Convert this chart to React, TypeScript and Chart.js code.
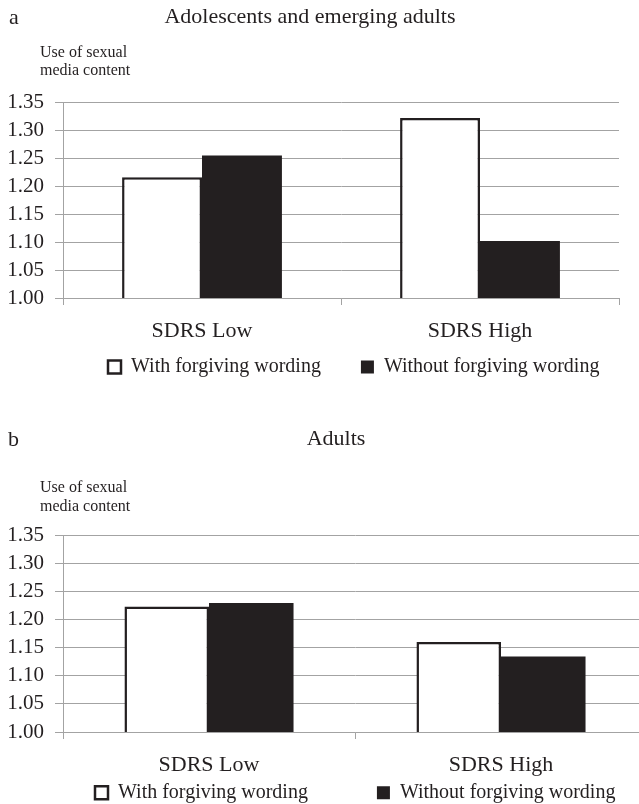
import React, { useEffect, useRef } from "react";
import { Chart, registerables } from "chart.js";

Chart.register(...registerables);

const categories = ["SDRS Low", "SDRS High"];
const seriesLabels = ["With forgiving wording", "Without forgiving wording"];
const adolescentsWith = [1.216, 1.322];
const adolescentsWithout = [1.255, 1.102];
const adultsWith = [1.223, 1.16];
const adultsWithout = [1.229, 1.134];
const yMin = 1.0;
const yMax = 1.35;
const yTickValues = [1.0, 1.05, 1.1, 1.15, 1.2, 1.25, 1.3, 1.35];
const titles = ["Adolescents and emerging adults", "Adults"];
const panelLetters = ["a", "b"];
const axisCaption = ["Use of sexual", "media content"];

const FONT = "'Liberation Serif', 'Times New Roman', serif";
const INK = "#231f20";
const GRID = "#a3a3a3";
const X_AXIS_H = 52;

const annotPlugin = {
  id: "annot",
  afterDraw(chart: any, _args: any, opts: any) {
    const ctx = chart.ctx;
    ctx.save();
    ctx.fillStyle = INK;
    ctx.textAlign = "left";
    ctx.textBaseline = "alphabetic";
    ctx.font = `22px ${FONT}`;
    ctx.fillText(opts.letter, opts.letterX, opts.letterY);
    ctx.font = `16px ${FONT}`;
    opts.caption.forEach((t: string, i: number) =>
      ctx.fillText(t, opts.capX, opts.capY + i * opts.capGap)
    );
    ctx.restore();
  },
};

const legendPlace = {
  id: "legendPlace",
  afterLayout(chart: any, _args: any, opts: any) {
    const l = chart.legend;
    if (!l) return;
    const pad = l.options.labels.padding;
    const w = l.right - l.left;
    const h = l.bottom - l.top;
    l.left = opts.x - pad;
    l.right = l.left + w + 100;
    l.top = opts.textY - 10 - pad;
    l.bottom = l.top + h;
  },
};

function makeConfig(p: any) {
  return {
    type: "bar",
    data: {
      labels: categories,
      datasets: [
        {
          label: seriesLabels[0],
          data: p.withData,
          backgroundColor: "#ffffff",
          borderColor: INK,
          borderWidth: 2.5,
          borderSkipped: false,
          barPercentage: 1,
          categoryPercentage: p.catPct,
        },
        {
          label: seriesLabels[1],
          data: p.withoutData,
          backgroundColor: INK,
          borderColor: INK,
          borderWidth: 0,
          borderSkipped: false,
          barPercentage: 1,
          categoryPercentage: p.catPct,
        },
      ],
    },
    options: {
      animation: false,
      responsive: false,
      maintainAspectRatio: false,
      layout: { padding: 0 },
      font: { family: FONT },
      scales: {
        x: {
          offset: true,
          grid: {
            display: true,
            drawOnChartArea: false,
            drawTicks: true,
            tickLength: 7,
            color: GRID,
            lineWidth: 1,
          },
          border: { display: true, color: GRID, width: 1 },
          ticks: {
            color: INK,
            padding: 13.5,
            font: { family: FONT, size: 22 },
            maxRotation: 0,
          },
          afterFit(scale: any) {
            scale.height = X_AXIS_H;
          },
        },
        y: {
          min: yMin,
          max: yMax,
          grid: {
            color: GRID,
            lineWidth: 1,
            drawTicks: true,
            tickLength: 8,
          },
          border: { display: true, color: GRID, width: 1 },
          ticks: {
            autoSkip: false,
            color: INK,
            padding: 11,
            font: { family: FONT, size: 21 },
            callback: (v: number) => Number(v).toFixed(2),
          },
          afterBuildTicks(scale: any) {
            scale.ticks = yTickValues.map((v) => ({ value: v }));
          },
          afterFit(scale: any) {
            scale.width = 63;
          },
        },
        yRight: {
          position: "right",
          display: true,
          min: yMin,
          max: yMax,
          grid: { display: false, drawTicks: false },
          border: { display: false },
          ticks: { display: false },
          afterFit(scale: any) {
            scale.width = p.padRight;
          },
        },
      },
      plugins: {
        title: {
          display: true,
          text: p.title,
          color: INK,
          font: { family: FONT, size: 22, weight: "normal" },
          padding: { top: p.titleTop, bottom: p.titleBottom },
        },
        legend: {
          display: true,
          position: "bottom",
          align: "start",
          labels: {
            color: INK,
            boxWidth: 13,
            boxHeight: 13,
            padding: p.legendPad,
            font: { family: FONT, size: 20 },
          },
        },
        tooltip: { enabled: false },
        annot: p.annot,
        legendPlace: p.legendPlace,
      },
    },
    plugins: [annotPlugin, legendPlace],
  } as any;
}

function Panel(props: any) {
  const ref = useRef<HTMLCanvasElement>(null);
  useEffect(() => {
    if (!ref.current) return;
    const chart = new Chart(ref.current, makeConfig(props.cfg));
    return () => chart.destroy();
  }, []);
  return (
    <div
      style={{
        position: "absolute",
        left: 0,
        top: props.top,
        width: props.width,
        height: props.height,
      }}
    >
      <canvas
        ref={ref}
        width={props.width}
        height={props.height}
        style={{ width: props.width, height: props.height, display: "block" }}
      />
    </div>
  );
}

export default function App() {
  const cfgA = {
    withData: adolescentsWith,
    withoutData: adolescentsWithout,
    catPct: 0.575,
    padRight: 1,
    title: titles[0],
    titleTop: 4,
    titleBottom: 72,
    legendPad: 40,
    annot: {
      letter: panelLetters[0],
      letterX: 9,
      letterY: 23.5,
      caption: axisCaption,
      capX: 40,
      capY: 56.7,
      capGap: 18.3,
    },
    legendPlace: { x: 108, textY: 367 },
  };
  const cfgB = {
    withData: adultsWith,
    withoutData: adultsWithout,
    catPct: 0.579,
    padRight: 25,
    title: titles[1],
    titleTop: 6.3,
    titleBottom: 82.3,
    legendPad: 69,
    annot: {
      letter: panelLetters[1],
      letterX: 8,
      letterY: 26,
      caption: axisCaption,
      capX: 40,
      capY: 71.7,
      capGap: 19,
    },
    legendPlace: { x: 95, textY: 372.7 },
  };
  return (
    <div
      style={{
        position: "fixed",
        left: 0,
        top: 0,
        width: 639,
        height: 804,
        overflow: "hidden",
        background: "#ffffff",
      }}
    >
      <Panel top={0} width={620} height={298 + X_AXIS_H + 70} cfg={cfgA} />
      <Panel top={420} width={672} height={312 + X_AXIS_H + 99} cfg={cfgB} />
    </div>
  );
}
